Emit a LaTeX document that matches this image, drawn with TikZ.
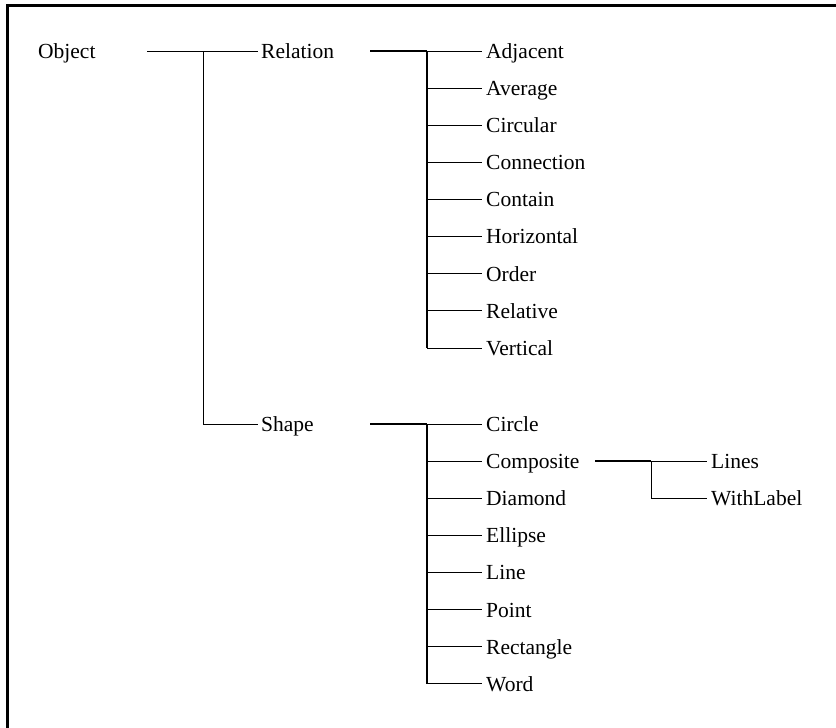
\documentclass[tikz,border=0pt]{standalone}
\usepackage{fontspec}
\setmainfont{Liberation Serif}
\begin{document}
\begin{tikzpicture}[x=1pt,y=-1pt,
  label/.style={anchor=base west,inner sep=0pt,font=\fontsize{21.5}{24}\selectfont},
  twig/.style={line width=1pt,black},
  trunk/.style={line width=1.9pt,black},
  frame/.style={line width=3pt,black}]
\useasboundingbox (0,0) rectangle (836,728);
% open frame: left and top edges only
\draw[frame] (7,728) -- (7,5.5) -- (836,5.5);

% root
\coordinate (objpt) at (38,51);
\node[label] (object) at ([yshift=-7.3pt]objpt) {Object};
\coordinate (objout) at (147,51);
\coordinate (objjoin) at (203,51);
\coordinate (relin) at (258,51);
\coordinate (shpin) at (258,424);
\coordinate (objbot) at (203,424);
\node[label] (relation) at ([xshift=3pt,yshift=-7.3pt]relin) {Relation};
\node[label] (shape) at ([xshift=3pt,yshift=-7.3pt]shpin) {Shape};
\draw[twig] (objout) -- (relin);
\draw[twig] (objjoin) -- (objbot) -- (shpin);

% Relation subtree
\coordinate (relout) at (370,51);
\coordinate (reljoin) at (427,51);
\draw[trunk] (relout) -- (reljoin);
\foreach \name [count=\i from 0] in {Adjacent,Average,Circular,Connection,Contain,Horizontal,Order,Relative,Vertical}{
  \coordinate (rb\i) at (427,51+\i*37.125);
  \coordinate (rc\i) at (482,51+\i*37.125);
  \node[label] (rel\i) at ([xshift=4pt,yshift=-7.3pt]rc\i) {\name};
  \draw[twig] (rb\i) -- (rc\i);
}
\draw[trunk] (reljoin) -- (rb8);

% Shape subtree
\coordinate (shpout) at (370,424);
\coordinate (shpjoin) at (427,424);
\draw[trunk] (shpout) -- (shpjoin);
\foreach \name [count=\i from 0] in {Circle,Composite,Diamond,Ellipse,Line,Point,Rectangle,Word}{
  \coordinate (sb\i) at (427,424+\i*37.14);
  \coordinate (sc\i) at (482,424+\i*37.14);
  \node[label] (shp\i) at ([xshift=4pt,yshift=-7.3pt]sc\i) {\name};
  \draw[twig] (sb\i) -- (sc\i);
}
\draw[trunk] (shpjoin) -- (sb7);

% Composite subtree
\coordinate (cmpout) at (595,461);
\coordinate (cmpjoin) at (651,461);
\coordinate (cmpbot) at (651,498);
\coordinate (linin) at (707,461);
\coordinate (wlin) at (707,498);
\node[label] (lines) at ([xshift=4pt,yshift=-7.3pt]linin) {Lines};
\node[label] (withlabel) at ([xshift=4pt,yshift=-7.3pt]wlin) {WithLabel};
\draw[trunk] (cmpout) -- (cmpjoin);
\draw[twig] (cmpjoin) -- (linin);
\draw[twig] (cmpjoin) -- (cmpbot) -- (wlin);
\end{tikzpicture}
\end{document}
